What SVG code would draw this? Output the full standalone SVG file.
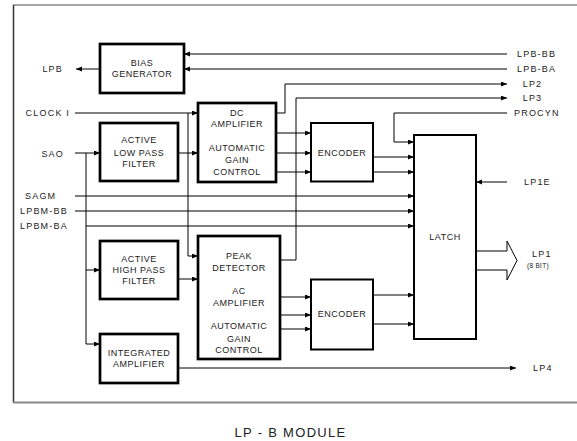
<svg xmlns="http://www.w3.org/2000/svg" width="577" height="441" viewBox="0 0 577 441">
<style>
.box{fill:#fff;stroke:#000;stroke-width:2.7}
.box2{fill:#fff;stroke:#000;stroke-width:2}
.ln{fill:none;stroke:#000;stroke-width:1}
.arr{marker-end:url(#ah)}
text{font-family:"Liberation Sans",Arial,sans-serif;font-size:9px;fill:#222;letter-spacing:0.5px}
.bt{text-anchor:middle}
.lb{letter-spacing:1.2px}
.end{text-anchor:end}
</style>
<defs>
<marker id="ah" markerUnits="userSpaceOnUse" markerWidth="7" markerHeight="6" refX="6" refY="2.5" orient="auto">
<path d="M0,0 L6,2.5 L0,5 z" fill="#000"/>
</marker>
</defs>
<g id="frame">
<line x1="13" y1="5" x2="577" y2="5" stroke="#888" stroke-width="1.5"/>
<line x1="13.5" y1="5" x2="13.5" y2="403" stroke="#333" stroke-width="1.5"/>
<line x1="13" y1="402.5" x2="577" y2="402.5" stroke="#888" stroke-width="2"/>
</g>
<g id="connectors">
<path class="ln arr" d="M507,54 H184"/>
<path class="ln arr" d="M507,69 H184"/>
<path class="ln arr" d="M100,69 H76"/>
<path class="ln arr" d="M75,113 H198"/>
<path class="ln arr" d="M188,113 V256 H198"/>
<path class="ln arr" d="M276,113 H285 V84 H507"/>
<path class="ln arr" d="M280,260 H296 V98 H507"/>
<path class="ln arr" d="M507,113 H394 V142 H414"/>
<path class="ln arr" d="M75,153 H100"/>
<path class="ln" d="M86,153 V344"/>
<path class="ln arr" d="M86,270 H100"/>
<path class="ln arr" d="M86,344 H100"/>
<path class="ln arr" d="M178,153 H198"/>
<path class="ln arr" d="M276,133 H311"/>
<path class="ln arr" d="M276,153 H311"/>
<path class="ln arr" d="M276,172 H311"/>
<path class="ln arr" d="M373,157 H414"/>
<path class="ln arr" d="M373,172 H414"/>
<path class="ln arr" d="M75,196 H414"/>
<path class="ln arr" d="M75,211 H414"/>
<path class="ln arr" d="M86,226 H414"/>
<path class="ln arr" d="M507,182 H476"/>
<path class="ln arr" d="M178,279 H198"/>
<path class="ln arr" d="M280,297 H311"/>
<path class="ln arr" d="M280,315 H311"/>
<path class="ln arr" d="M280,329 H311"/>
<path class="ln arr" d="M373,295 H414"/>
<path class="ln arr" d="M373,324 H414"/>
<path class="ln arr" d="M178,368 H516"/>
<path d="M476,251 H507 V241 L517,260.5 L507,280 V270 H476" fill="#fff" stroke="#000" stroke-width="1"/>
</g>
<g id="bias">
<rect class="box" x="100" y="44" width="84" height="49"/>
<text class="bt" x="142" y="65.5">BIAS</text>
<text class="bt" x="142" y="77.2">GENERATOR</text>
</g>
<g id="lpf">
<rect class="box" x="100" y="123" width="78" height="58"/>
<text class="bt" x="139" y="143.2">ACTIVE</text>
<text class="bt" x="139" y="155.5">LOW PASS</text>
<text class="bt" x="139" y="166.5">FILTER</text>
</g>
<g id="dcamp">
<rect class="box" x="198" y="103" width="78" height="79"/>
<text class="bt" x="237" y="115.9">DC</text>
<text class="bt" x="237" y="127.2">AMPLIFIER</text>
<text class="bt" x="237" y="150.5">AUTOMATIC</text>
<text class="bt" x="237" y="162.5">GAIN</text>
<text class="bt" x="237" y="174.9">CONTROL</text>
</g>
<g id="hpf">
<rect class="box" x="100" y="241" width="78" height="58"/>
<text class="bt" x="139" y="261.5">ACTIVE</text>
<text class="bt" x="139" y="273.2">HIGH PASS</text>
<text class="bt" x="139" y="284.2">FILTER</text>
</g>
<g id="peak">
<rect class="box" x="198" y="236" width="82" height="123"/>
<text class="bt" x="239" y="258.9">PEAK</text>
<text class="bt" x="239" y="270.9">DETECTOR</text>
<text class="bt" x="239" y="293.9">AC</text>
<text class="bt" x="239" y="305.5">AMPLIFIER</text>
<text class="bt" x="239" y="329.2">AUTOMATIC</text>
<text class="bt" x="239" y="341.5">GAIN</text>
<text class="bt" x="239" y="352.5">CONTROL</text>
</g>
<g id="integrated">
<rect class="box" x="100" y="334" width="78" height="49"/>
<text class="bt" x="139" y="355.9">INTEGRATED</text>
<text class="bt" x="139" y="366.5">AMPLIFIER</text>
</g>
<g id="encoder1">
<rect class="box2" x="311" y="123" width="62" height="58.5"/>
<text class="bt" x="342" y="155.9">ENCODER</text>
</g>
<g id="encoder2">
<rect class="box2" x="311" y="279.5" width="62" height="70"/>
<text class="bt" x="342" y="316.5">ENCODER</text>
</g>
<g id="latch">
<rect class="box2" x="414" y="135" width="62" height="204"/>
<text class="bt" x="445" y="239.9">LATCH</text>
</g>
<g id="labels">
<text class="lb end" x="63" y="72.2">LPB</text>
<text class="lb end" x="70" y="116.2">CLOCK I</text>
<text class="lb end" x="64" y="157">SAO</text>
<text class="lb" x="25" y="199.2">SAGM</text>
<text class="lb" x="20" y="214.2">LPBM-BB</text>
<text class="lb" x="20" y="229.2">LPBM-BA</text>
<text class="lb" x="517" y="57.2">LPB-BB</text>
<text class="lb" x="517" y="72.2">LPB-BA</text>
<text class="lb" x="522.7" y="87.2">LP2</text>
<text class="lb" x="522.7" y="101.2">LP3</text>
<text class="lb" x="514" y="116.2">PROCYN</text>
<text class="lb" x="524" y="185.2">LP1E</text>
<text class="lb" x="532" y="257.2">LP1</text>
<text x="527" y="267.5" style="font-size:6.5px;letter-spacing:0.3px">(8 BIT)</text>
<text class="lb" x="533" y="371">LP4</text>
<text x="290.5" y="437" style="font-size:13px;letter-spacing:1.3px;text-anchor:middle">LP - B MODULE</text>
</g>
</svg>
